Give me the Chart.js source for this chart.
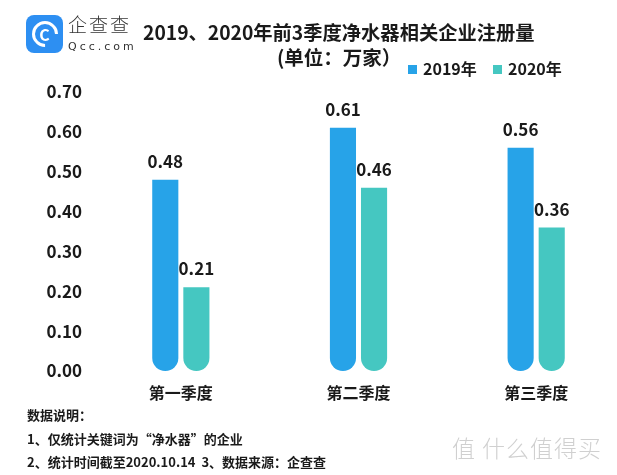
<!DOCTYPE html>
<html>
<head>
<meta charset="utf-8">
<script src="https://cdn.jsdelivr.net/npm/chart.js@4"></script>
<style>
  html, body { margin: 0; padding: 0; background: #fff; }
  body { width: 617px; height: 475px; position: relative; overflow: hidden;
         font-family: "Noto Sans CJK SC", "Noto Sans", sans-serif; color: #1a1a1a; }
  #wrap { position: absolute; left: 0; top: 0; width: 640px; height: 475px; }
  .abs { position: absolute; white-space: nowrap; }
  #logo { left: 26px; top: 15px; width: 37px; height: 38px; border-radius: 8px; background: #2d8ff2; }
  #ring { position: absolute; left: 6px; top: 6px; width: 20px; height: 20px; border: 3px solid #fff;
          border-radius: 50%; border-bottom-color: transparent; transform: rotate(-45deg); }
  #logoC { position: absolute; left: 0; top: 6px; width: 37px; text-align: center; color: #fff;
           font: bold 16px/26px "Noto Sans CJK SC"; }
  #brand { left: 68px; top: 12px; font: 300 19px/24px "Noto Sans CJK SC"; color: #333; letter-spacing: 2px; }
  #brandEn { left: 68px; top: 40px; font: 11px/14px "DejaVu Sans"; color: #333; letter-spacing: 3px; }
  #title { left: 143px; top: 18px; font: bold 19.3px/28px "Noto Sans CJK SC"; }
  #sub { left: 277px; top: 43px; font: bold 19.5px/28px "Noto Sans CJK SC"; }
  .lg { top: 57px; font: bold 16px/22px "Noto Sans CJK SC"; }
  .sw { display: inline-block; width: 9px; height: 9px; margin-right: 6px; vertical-align: 1px; }
  .note { left: 27px; font: bold 13px/18px "Noto Sans CJK SC"; }
  #wm { left: 452px; top: 432px; font: 300 23px/30px "Noto Sans CJK SC"; color: #d0d0d0; letter-spacing: 1px; }
</style>
</head>
<body>
<div id="wrap"><canvas id="chart"></canvas></div>

<div id="logo" class="abs"><div id="ring"></div><div id="logoC">C</div></div>
<div id="brand" class="abs">企查查</div>
<div id="brandEn" class="abs">Qcc.com</div>
<div id="title" class="abs">2019、2020年前3季度净水器相关企业注册量</div>
<div id="sub" class="abs">(单位：万家）</div>
<div class="abs lg" style="left:408px"><span class="sw" style="background:#27a3e8"></span>2019年</div>
<div class="abs lg" style="left:493px"><span class="sw" style="background:#45c7c1"></span>2020年</div>

<div class="abs note" style="top:406px">数据说明：</div>
<div class="abs note" style="top:430px">1、仅统计关键词为“净水器”的企业</div>
<div class="abs note" style="top:453px">2、统计时间截至2020.10.14&nbsp;&nbsp;3、数据来源：企查查</div>
<div id="wm" class="abs">值 什么值得买</div>

<script>
const quarters = ['第一季度', '第二季度', '第三季度'];
const values2019 = [0.48, 0.61, 0.56];
const values2020 = [0.21, 0.46, 0.36];
const seriesNames = ['2019年', '2020年'];

const ctx = document.getElementById('chart');

// value labels above each bar
const barLabels = {
    id: 'barLabels',
    afterDatasetsDraw(chart) {
        const c = chart.ctx;
        c.save();
        c.font = 'bold 17px "Noto Sans CJK SC"';
        c.fillStyle = '#1a1a1a';
        c.textAlign = 'center';
        c.textBaseline = 'alphabetic';
        chart.data.datasets.forEach((ds, i) => {
            chart.getDatasetMeta(i).data.forEach((bar, j) => {
                c.fillText(ds.data[j].toFixed(2), bar.x, bar.y - 12);
            });
        });
        c.restore();
    }
};

new Chart(ctx, {
    type: 'bar',
    data: {
        labels: quarters,
        datasets: [
            {
                label: seriesNames[0],
                data: values2019,
                backgroundColor: '#27a3e8'
            },
            {
                label: seriesNames[1],
                data: values2020,
                backgroundColor: '#45c7c1'
            }
        ]
    },
    options: {
        responsive: true,
        maintainAspectRatio: false,
        animation: false,
        layout: { padding: { top: 92, right: 15, left: 0, bottom: 0 } },
        datasets: {
            bar: {
                categoryPercentage: 0.35,
                barPercentage: 0.84,
                borderSkipped: false,
                borderRadius: { topLeft: 0, topRight: 0, bottomLeft: 13, bottomRight: 13 }
            }
        },
        plugins: {
            legend: { display: false },
            tooltip: { enabled: false }
        },
        scales: {
            x: {
                grid: { display: false, drawTicks: false },
                border: { display: false },
                ticks: {
                    padding: 12,
                    color: '#1a1a1a',
                    font: { family: 'Noto Sans CJK SC', size: 16, weight: 'bold' }
                },
                afterFit(scale) { scale.height = 104; }
            },
            y: {
                min: 0,
                max: 0.7,
                grid: { display: false, drawTicks: false },
                border: { display: false },
                ticks: {
                    stepSize: 0.1,
                    padding: 10,
                    color: '#1a1a1a',
                    font: { family: 'Noto Sans CJK SC', size: 17, weight: 'bold' },
                    callback: (v) => Number(v).toFixed(2)
                },
                afterFit(scale) { scale.width = 92; }
            }
        }
    },
    plugins: [barLabels]
});
</script>
</body>
</html>
